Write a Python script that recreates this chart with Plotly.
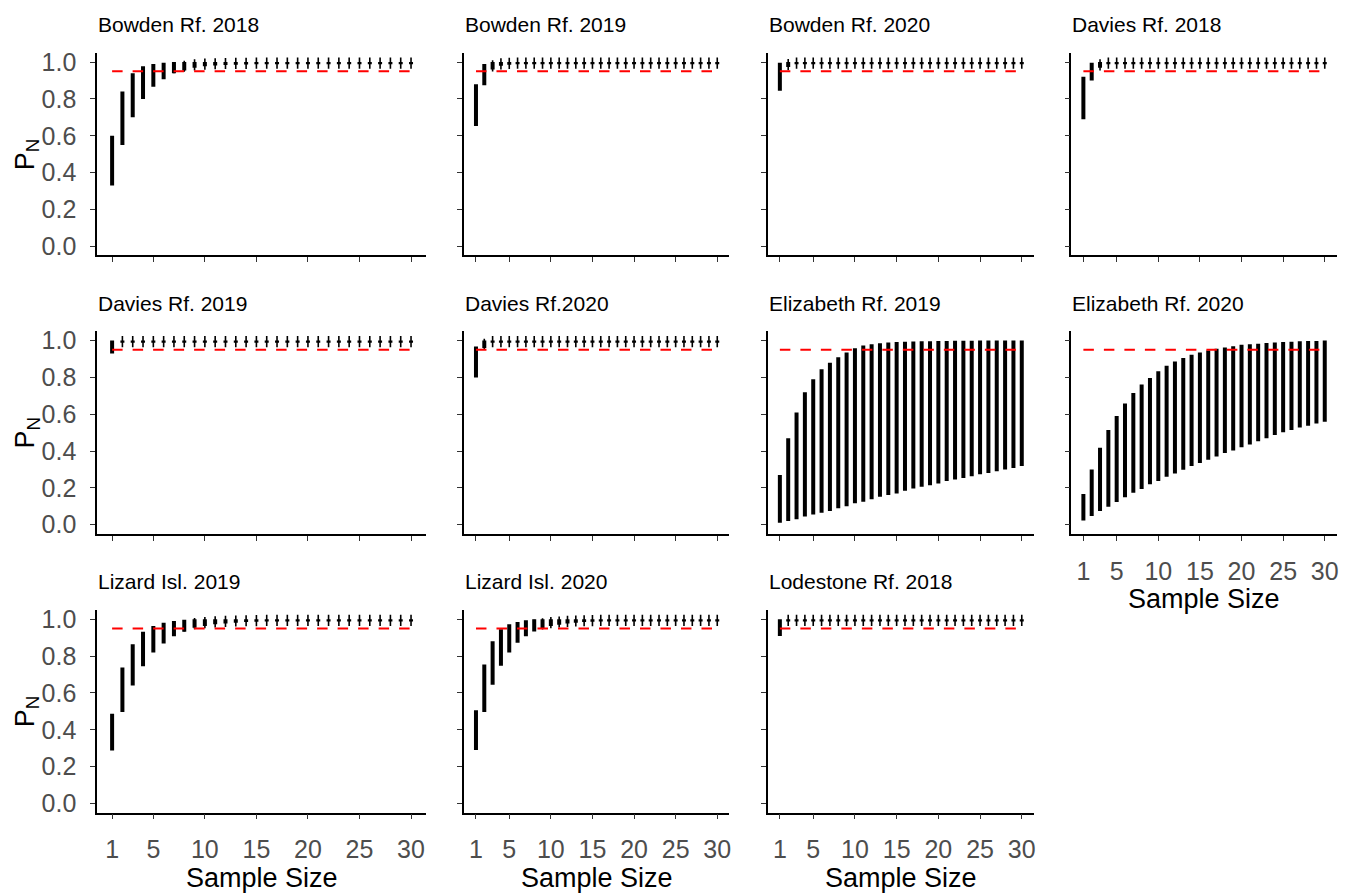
import plotly.graph_objects as go

W, H = 1354, 894

sample_size = list(range(1, 31))
x_ticks = [1, 5, 10, 15, 20, 25, 30]
y_ticks = [0.0, 0.2, 0.4, 0.6, 0.8, 1.0]
threshold = 0.95

panel_titles = [
    "Bowden Rf. 2018", "Bowden Rf. 2019", "Bowden Rf. 2020", "Davies Rf. 2018",
    "Davies Rf. 2019", "Davies Rf.2020", "Elizabeth Rf. 2019", "Elizabeth Rf. 2020",
    "Lizard Isl. 2019", "Lizard Isl. 2020", "Lodestone Rf. 2018",
]

# lower / upper bounds of P_N for sample sizes 1..30
bowden_2018_lo = [0.33, 0.55, 0.70, 0.80, 0.866, 0.907, 0.94, 0.955, 0.97, 0.978,
                  0.982, 0.985, 0.986, 0.987, 0.988, 0.988, 0.988, 0.988, 0.988, 0.988,
                  0.988, 0.988, 0.988, 0.988, 0.988, 0.988, 0.988, 0.988, 0.988, 0.988]
bowden_2018_hi = [0.60, 0.84, 0.94, 0.977, 0.99, 0.997, 1.0, 1.0, 1.0, 1.0,
                  1.0, 1.0, 1.0, 1.0, 1.0, 1.0, 1.0, 1.0, 1.0, 1.0,
                  1.0, 1.0, 1.0, 1.0, 1.0, 1.0, 1.0, 1.0, 1.0, 1.0]

bowden_2019_lo = [0.653, 0.875, 0.96, 0.98, 0.986, 0.988, 0.988, 0.988, 0.988, 0.988,
                  0.988, 0.988, 0.988, 0.988, 0.988, 0.988, 0.988, 0.988, 0.988, 0.988,
                  0.988, 0.988, 0.988, 0.988, 0.988, 0.988, 0.988, 0.988, 0.988, 0.988]
bowden_2019_hi = [0.88, 0.99, 1.0, 1.0, 1.0, 1.0, 1.0, 1.0, 1.0, 1.0,
                  1.0, 1.0, 1.0, 1.0, 1.0, 1.0, 1.0, 1.0, 1.0, 1.0,
                  1.0, 1.0, 1.0, 1.0, 1.0, 1.0, 1.0, 1.0, 1.0, 1.0]

bowden_2020_lo = [0.845, 0.973, 0.988, 0.988, 0.988, 0.988, 0.988, 0.988, 0.988, 0.988,
                  0.988, 0.988, 0.988, 0.988, 0.988, 0.988, 0.988, 0.988, 0.988, 0.988,
                  0.988, 0.988, 0.988, 0.988, 0.988, 0.988, 0.988, 0.988, 0.988, 0.988]
bowden_2020_hi = [0.997, 1.0, 1.0, 1.0, 1.0, 1.0, 1.0, 1.0, 1.0, 1.0,
                  1.0, 1.0, 1.0, 1.0, 1.0, 1.0, 1.0, 1.0, 1.0, 1.0,
                  1.0, 1.0, 1.0, 1.0, 1.0, 1.0, 1.0, 1.0, 1.0, 1.0]

davies_2018_lo = [0.69, 0.90, 0.97, 0.988, 0.988, 0.988, 0.988, 0.988, 0.988, 0.988,
                  0.988, 0.988, 0.988, 0.988, 0.988, 0.988, 0.988, 0.988, 0.988, 0.988,
                  0.988, 0.988, 0.988, 0.988, 0.988, 0.988, 0.988, 0.988, 0.988, 0.988]
davies_2018_hi = [0.92, 0.997, 1.0, 1.0, 1.0, 1.0, 1.0, 1.0, 1.0, 1.0,
                  1.0, 1.0, 1.0, 1.0, 1.0, 1.0, 1.0, 1.0, 1.0, 1.0,
                  1.0, 1.0, 1.0, 1.0, 1.0, 1.0, 1.0, 1.0, 1.0, 1.0]

davies_2019_lo = [0.93, 0.988, 0.988, 0.988, 0.988, 0.988, 0.988, 0.988, 0.988, 0.988,
                  0.988, 0.988, 0.988, 0.988, 0.988, 0.988, 0.988, 0.988, 0.988, 0.988,
                  0.988, 0.988, 0.988, 0.988, 0.988, 0.988, 0.988, 0.988, 0.988, 0.988]
davies_2019_hi = [1.0, 1.0, 1.0, 1.0, 1.0, 1.0, 1.0, 1.0, 1.0, 1.0,
                  1.0, 1.0, 1.0, 1.0, 1.0, 1.0, 1.0, 1.0, 1.0, 1.0,
                  1.0, 1.0, 1.0, 1.0, 1.0, 1.0, 1.0, 1.0, 1.0, 1.0]

davies_2020_lo = [0.80, 0.96, 0.988, 0.988, 0.988, 0.988, 0.988, 0.988, 0.988, 0.988,
                  0.988, 0.988, 0.988, 0.988, 0.988, 0.988, 0.988, 0.988, 0.988, 0.988,
                  0.988, 0.988, 0.988, 0.988, 0.988, 0.988, 0.988, 0.988, 0.988, 0.988]
davies_2020_hi = [0.968, 1.0, 1.0, 1.0, 1.0, 1.0, 1.0, 1.0, 1.0, 1.0,
                  1.0, 1.0, 1.0, 1.0, 1.0, 1.0, 1.0, 1.0, 1.0, 1.0,
                  1.0, 1.0, 1.0, 1.0, 1.0, 1.0, 1.0, 1.0, 1.0, 1.0]

elizabeth_2019_lo = [0.01, 0.02, 0.03, 0.045, 0.055, 0.065, 0.075, 0.09, 0.10, 0.117,
                     0.125, 0.138, 0.152, 0.161, 0.17, 0.184, 0.197, 0.206, 0.215, 0.224,
                     0.238, 0.246, 0.254, 0.263, 0.274, 0.281, 0.29, 0.30, 0.308, 0.319]
elizabeth_2019_hi = [0.27, 0.47, 0.61, 0.72, 0.79, 0.845, 0.88, 0.91, 0.935, 0.958,
                     0.973, 0.98, 0.986, 0.99, 0.992, 0.994, 0.995, 0.996, 0.997, 0.998,
                     0.998, 0.999, 0.999, 0.999, 1.0, 1.0, 1.0, 1.0, 1.0, 1.0]

elizabeth_2020_lo = [0.023, 0.048, 0.075, 0.098, 0.124, 0.149, 0.174, 0.194, 0.22, 0.238,
                     0.26, 0.278, 0.299, 0.319, 0.335, 0.353, 0.371, 0.389, 0.403, 0.421,
                     0.435, 0.453, 0.47, 0.487, 0.502, 0.514, 0.528, 0.538, 0.55, 0.559]
elizabeth_2020_hi = [0.167, 0.30, 0.418, 0.514, 0.59, 0.658, 0.715, 0.761, 0.797, 0.833,
                     0.864, 0.887, 0.905, 0.923, 0.935, 0.946, 0.955, 0.962, 0.969, 0.977,
                     0.98, 0.983, 0.987, 0.99, 0.992, 0.994, 0.996, 0.998, 0.998, 1.0]

lizard_2019_lo = [0.288, 0.497, 0.64, 0.745, 0.82, 0.869, 0.908, 0.932, 0.954, 0.964,
                  0.973, 0.978, 0.982, 0.985, 0.987, 0.988, 0.988, 0.988, 0.988, 0.988,
                  0.988, 0.988, 0.988, 0.988, 0.988, 0.988, 0.988, 0.988, 0.988, 0.988]
lizard_2019_hi = [0.487, 0.738, 0.865, 0.932, 0.964, 0.982, 0.991, 0.998, 1.0, 1.0,
                  1.0, 1.0, 1.0, 1.0, 1.0, 1.0, 1.0, 1.0, 1.0, 1.0,
                  1.0, 1.0, 1.0, 1.0, 1.0, 1.0, 1.0, 1.0, 1.0, 1.0]

lizard_2020_lo = [0.29, 0.496, 0.644, 0.748, 0.82, 0.873, 0.908, 0.934, 0.95, 0.964,
                  0.971, 0.977, 0.982, 0.985, 0.987, 0.988, 0.988, 0.988, 0.988, 0.988,
                  0.988, 0.988, 0.988, 0.988, 0.988, 0.988, 0.988, 0.988, 0.988, 0.988]
lizard_2020_hi = [0.506, 0.755, 0.881, 0.946, 0.973, 0.986, 0.995, 1.0, 1.0, 1.0,
                  1.0, 1.0, 1.0, 1.0, 1.0, 1.0, 1.0, 1.0, 1.0, 1.0,
                  1.0, 1.0, 1.0, 1.0, 1.0, 1.0, 1.0, 1.0, 1.0, 1.0]

lodestone_2018_lo = [0.91, 0.988, 0.988, 0.988, 0.988, 0.988, 0.988, 0.988, 0.988, 0.988,
                     0.988, 0.988, 0.988, 0.988, 0.988, 0.988, 0.988, 0.988, 0.988, 0.988,
                     0.988, 0.988, 0.988, 0.988, 0.988, 0.988, 0.988, 0.988, 0.988, 0.988]
lodestone_2018_hi = [1.0, 1.0, 1.0, 1.0, 1.0, 1.0, 1.0, 1.0, 1.0, 1.0,
                     1.0, 1.0, 1.0, 1.0, 1.0, 1.0, 1.0, 1.0, 1.0, 1.0,
                     1.0, 1.0, 1.0, 1.0, 1.0, 1.0, 1.0, 1.0, 1.0, 1.0]

panel_lo = [bowden_2018_lo, bowden_2019_lo, bowden_2020_lo, davies_2018_lo,
            davies_2019_lo, davies_2020_lo, elizabeth_2019_lo, elizabeth_2020_lo,
            lizard_2019_lo, lizard_2020_lo, lodestone_2018_lo]
panel_hi = [bowden_2018_hi, bowden_2019_hi, bowden_2020_hi, davies_2018_hi,
            davies_2019_hi, davies_2020_hi, elizabeth_2019_hi, elizabeth_2020_hi,
            lizard_2019_hi, lizard_2020_hi, lodestone_2018_hi]

# facet grid geometry (pixels)
col_px = [(97.3, 426.6), (464.6, 730.4), (768.9, 1035.4), (1072.9, 1338.8)]
row_px = [(48.4, 253.0), (329.7, 534.3), (611.3, 815.8)]
n_cols = 4

FONT = "Liberation Sans, Arial, sans-serif"
TICK_GREY = "#4D4D4D"

fig = go.Figure()
annotations = []
layout_axes = {}

for i, title in enumerate(panel_titles):
    r, c = divmod(i, n_cols)
    k = i + 1
    xa = "x" if k == 1 else f"x{k}"
    ya = "y" if k == 1 else f"y{k}"
    x0, x1 = col_px[c]
    y0, y1 = row_px[r]

    lo, hi = panel_lo[i], panel_hi[i]

    # vertical ranges
    xs, ys = [], []
    for n, a, b in zip(sample_size, lo, hi):
        xs += [n, n, None]
        ys += [a, b, None]
    fig.add_trace(go.Scatter(
        x=xs, y=ys, mode="lines", xaxis=xa, yaxis=ya,
        line=dict(color="black", width=4), hoverinfo="skip", showlegend=False,
    ))
    # thin centre stroke through each range
    fig.add_trace(go.Scatter(
        x=sample_size, y=[(a + b) / 2 for a, b in zip(lo, hi)], mode="markers",
        xaxis=xa, yaxis=ya, showlegend=False, hoverinfo="skip",
        marker=dict(symbol="line-ns", size=8, line=dict(color="black", width=1.6)),
    ))
    # 0.95 reference line
    fig.add_trace(go.Scatter(
        x=[sample_size[0], sample_size[-1]], y=[threshold, threshold], mode="lines",
        xaxis=xa, yaxis=ya, showlegend=False, hoverinfo="skip",
        line=dict(color="#FF0000", width=2, dash="10.5px,10px"),
    ))

    show_x_labels = (r == 2) or (r == 1 and c == 3)
    show_y_labels = (c == 0)

    axis_common = dict(
        showline=True, linecolor="black", linewidth=1.6, mirror=False,
        ticks="outside", ticklen=5, tickwidth=1.3, tickcolor="#333333",
        showgrid=False, zeroline=False, fixedrange=True,
        tickfont=dict(family=FONT, size=25, color=TICK_GREY),
    )
    layout_axes["xaxis" if k == 1 else f"xaxis{k}"] = dict(
        axis_common, domain=[x0 / W, x1 / W], range=[-0.45, 31.45],
        anchor=ya, tickvals=x_ticks, ticktext=[str(v) for v in x_ticks],
        showticklabels=show_x_labels, ticklabelstandoff=9,
    )
    layout_axes["yaxis" if k == 1 else f"yaxis{k}"] = dict(
        axis_common, domain=[1 - y1 / H, 1 - y0 / H], range=[-0.05, 1.05],
        anchor=xa, tickvals=y_ticks, ticktext=[f"{v:.1f}" for v in y_ticks],
        showticklabels=show_y_labels, ticklabelstandoff=9,
    )

    # facet title
    annotations.append(dict(
        text=title, xref="paper", yref="paper", x=(x0 - 1) / W, y=1 - (y0 - 28.5) / H,
        xanchor="left", yanchor="middle", showarrow=False,
        font=dict(family=FONT, size=21, color="black"),
    ))
    if show_x_labels:
        annotations.append(dict(
            text="Sample Size", xref="paper", yref="paper",
            x=(x0 + x1) / 2 / W, y=1 - (y1 + 66) / H,
            xanchor="center", yanchor="middle", showarrow=False,
            font=dict(family=FONT, size=27, color="black"),
        ))
    if show_y_labels:
        annotations.append(dict(
            text="P<sub>N</sub>", xref="paper", yref="paper",
            x=27 / W, y=1 - (y0 + y1) / 2 / H, textangle=-90,
            xanchor="center", yanchor="middle", showarrow=False,
            font=dict(family=FONT, size=27, color="black"),
        ))

fig.update_layout(
    width=W, height=H, margin=dict(l=0, r=0, t=0, b=0),
    paper_bgcolor="white", plot_bgcolor="white",
    annotations=annotations, **layout_axes,
)

fig.write_html("out.html", config={"displayModeBar": False})
